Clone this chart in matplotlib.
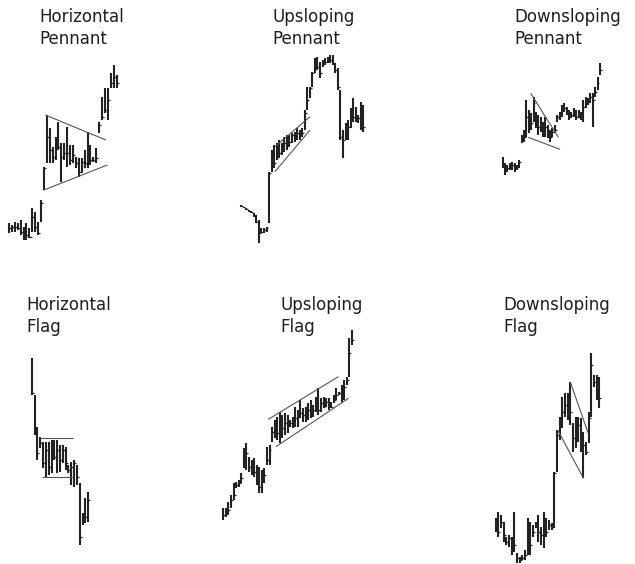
import matplotlib
matplotlib.use("Agg")
import matplotlib.pyplot as plt

# ---------------------------------------------------------------- data
# Horizontal pennant
hp_high = [48.0, 47.5, 48.5, 48.0, 49.0, 47.0, 48.0, 46.5, 52.5, 51.5, 48.5, 55.0,
           65.0, 80.5, 76.5, 71.0, 74.0, 78.5, 72.0, 72.0, 77.0, 71.5, 71.5, 68.0,
           67.5, 67.5, 70.0, 75.5, 71.5, 68.0, 70.5, 78.5, 86.0, 88.5, 88.5, 93.0,
           95.5, 92.5]
hp_low = [45.0, 45.5, 45.5, 46.0, 44.5, 43.0, 43.0, 43.5, 45.5, 45.5, 44.5, 48.5,
          58.0, 66.0, 66.0, 66.0, 67.0, 70.0, 60.5, 67.0, 65.0, 65.5, 66.0, 64.5,
          62.0, 63.0, 64.5, 64.5, 65.5, 66.5, 66.0, 75.0, 79.0, 81.0, 79.0, 88.5,
          88.5, 88.5]
hp_close = [46.5, 46.8, 47.0, 46.5, 45.5, 44.0, 44.5, 43.8, 50.0, 47.0, 45.0, 54.0,
            64.5, 73.8, 70.0, 68.0, 70.5, 71.0, 68.0, 69.0, 69.0, 67.0, 68.5, 66.0,
            63.5, 66.5, 66.0, 70.0, 67.0, 67.0, 67.5, 77.5, 80.0, 82.0, 85.0, 90.0,
            92.0, 90.0]
hp_lines = [([12.5, 33.3], [80.5, 73.0]), ([12.0, 33.8], [58.0, 65.5])]

# Upsloping pennant
up_high = [50.4, 50.0, 49.5, 49.0, 48.6, 48.2, 47.5, 46.0, 43.5, 43.5, 44.0, 60.5,
           67.0, 68.5, 69.0, 70.0, 69.0, 71.0, 71.5, 71.5, 72.0, 72.5, 73.5, 73.0,
           73.5, 79.0, 86.0, 86.0, 90.5, 94.5, 95.0, 93.5, 94.0, 94.5, 95.0, 95.5,
           95.5, 93.0, 91.5, 85.0, 73.0, 75.0, 76.0, 79.5, 82.5, 80.0, 77.5, 81.5,
           80.5]
up_low = [50.0, 49.6, 49.0, 48.5, 48.0, 47.0, 45.0, 39.0, 42.0, 42.2, 42.5, 45.0,
          60.5, 61.5, 64.0, 64.5, 65.5, 66.5, 67.0, 68.0, 69.0, 69.5, 70.0, 70.0,
          71.0, 73.0, 79.0, 82.5, 86.0, 90.0, 91.0, 88.5, 92.0, 92.5, 93.0, 93.0,
          92.5, 90.0, 85.0, 70.0, 64.5, 70.0, 70.0, 73.5, 75.5, 75.5, 75.0, 73.0,
          72.5]
up_close = [50.2, 49.8, 49.2, 48.8, 48.3, 47.5, 45.5, 42.0, 42.5, 43.0, 43.5, 60.0,
            66.0, 63.0, 67.5, 66.0, 68.5, 69.0, 70.5, 69.5, 71.5, 70.5, 72.0, 72.5,
            72.0, 78.0, 82.0, 85.5, 90.0, 93.0, 92.0, 90.0, 93.5, 93.5, 94.5, 94.0,
            93.0, 91.0, 86.0, 71.0, 70.0, 72.0, 74.0, 78.0, 77.0, 76.0, 76.5, 75.0,
            74.0]
up_lines = [([13.3, 27.1], [68.0, 77.0]), ([13.3, 27.1], [60.5, 73.0])]

# Downsloping pennant
dp_high = [68.0, 66.0, 65.5, 66.0, 66.5, 66.0, 65.5, 67.0, 74.5, 76.0, 85.0, 82.0,
           81.0, 86.0, 81.5, 80.5, 80.0, 78.5, 80.0, 77.5, 76.0, 76.5, 77.5, 80.5,
           81.5, 83.5, 84.0, 83.0, 82.0, 81.5, 82.5, 82.0, 82.0, 81.5, 85.0, 86.0,
           85.5, 87.0, 87.0, 89.0, 92.0, 96.0]
dp_low = [64.5, 62.5, 63.5, 64.0, 64.0, 63.5, 64.0, 64.5, 72.0, 72.5, 74.0, 75.0,
          76.0, 78.5, 76.5, 74.5, 75.5, 74.0, 74.0, 73.5, 72.5, 74.0, 75.0, 78.5,
          79.0, 80.0, 81.5, 80.5, 79.0, 79.5, 80.0, 79.0, 79.5, 79.0, 78.5, 82.5,
          83.5, 84.0, 77.0, 86.0, 88.0, 92.5]
dp_close = [66.0, 64.0, 64.5, 65.0, 65.5, 65.0, 65.0, 66.5, 73.0, 74.0, 80.0, 79.0,
            78.0, 84.0, 79.0, 77.0, 78.0, 76.0, 77.0, 75.5, 74.0, 75.5, 76.0, 80.0,
            80.5, 82.0, 82.5, 81.0, 80.5, 80.5, 81.0, 80.0, 80.5, 80.0, 83.0, 85.0,
            84.5, 86.0, 85.0, 87.5, 90.0, 94.0]
dp_lines = [([11.8, 23.5], [87.0, 73.8]), ([10.8, 24.2], [73.8, 70.2])]

# Horizontal flag
hf_high = [97.5, 86.5, 77.0, 74.0, 72.5, 72.5, 72.5, 73.0, 73.0, 73.0, 71.5, 71.5,
           71.0, 65.5, 66.5, 67.0, 65.5, 60.0, 51.0, 55.5, 57.5]
hf_low = [86.5, 74.5, 67.0, 70.5, 64.5, 62.0, 62.5, 63.0, 67.0, 63.0, 63.5, 66.0,
          64.0, 63.0, 59.5, 59.0, 59.5, 41.5, 47.5, 48.0, 48.5]
hf_close = [87.0, 75.5, 69.0, 72.0, 66.0, 70.0, 65.0, 69.0, 68.0, 70.0, 67.0, 70.0,
            66.0, 64.0, 65.0, 66.0, 62.0, 44.0, 49.0, 50.0, 55.0]
hf_lines = [([2.9, 14.7], [73.5, 73.5]), ([3.5, 14.9], [61.8, 61.8])]

# Upsloping flag
uf_high = [43.5, 43.5, 45.5, 47.5, 51.0, 51.5, 52.0, 54.0, 61.5, 63.0, 59.0, 58.0,
           58.5, 56.5, 56.0, 55.0, 55.5, 62.0, 62.5, 68.0, 70.0, 71.0, 72.5, 71.5,
           72.0, 71.5, 70.0, 71.0, 74.0, 73.0, 76.0, 73.5, 74.0, 75.0, 76.0, 74.5,
           77.0, 79.5, 76.5, 77.0, 76.5, 76.5, 75.5, 77.5, 79.5, 78.5, 80.5, 82.0,
           83.0, 94.5, 97.0]
uf_low = [40.0, 41.0, 41.5, 43.5, 46.0, 49.5, 50.0, 51.0, 55.5, 55.0, 54.5, 53.5,
          53.0, 50.5, 48.0, 48.0, 51.0, 56.5, 56.5, 63.5, 64.5, 64.0, 63.0, 64.5,
          65.5, 66.0, 68.0, 67.5, 68.0, 68.0, 70.5, 69.5, 69.5, 70.0, 70.5, 71.0,
          72.5, 71.5, 72.5, 73.5, 74.0, 73.0, 73.5, 75.0, 76.0, 77.5, 75.5, 76.0,
          80.5, 83.0, 92.5]
uf_close = [41.5, 42.5, 43.0, 46.0, 47.5, 50.5, 51.0, 52.5, 57.0, 60.0, 56.0, 55.0,
            54.5, 52.0, 50.0, 52.5, 53.5, 58.0, 61.0, 66.5, 67.0, 66.0, 68.0, 67.5,
            69.0, 68.5, 69.0, 70.0, 70.5, 71.0, 72.0, 71.5, 72.5, 73.0, 72.0, 73.0,
            74.5, 73.0, 75.0, 74.0, 75.5, 74.5, 74.0, 76.0, 77.5, 78.0, 78.0, 80.0,
            82.0, 90.0, 94.0]
uf_lines = [([17.5, 44.8], [70.2, 83.0]), ([20.5, 48.7], [62.0, 76.5])]

# Downsloping flag
df_high = [48.0, 50.0, 49.0, 47.0, 42.5, 43.0, 42.5, 50.0, 37.5, 36.5, 37.0, 38.5,
           48.0, 47.0, 46.0, 47.0, 49.0, 45.5, 50.0, 48.0, 47.5, 46.5, 62.0, 74.5,
           78.5, 84.5, 85.5, 85.5, 89.0, 76.5, 78.5, 78.5, 78.0, 74.0, 71.0, 80.0,
           97.5, 91.0, 91.0, 90.5]
df_low = [44.0, 42.5, 45.0, 41.0, 40.0, 39.5, 37.0, 38.0, 34.5, 34.5, 35.5, 35.5,
          37.0, 37.0, 42.5, 45.0, 41.0, 40.0, 39.0, 42.5, 44.5, 44.5, 45.0, 62.0,
          71.5, 75.0, 78.5, 77.5, 76.0, 68.0, 69.0, 71.0, 68.0, 60.0, 67.0, 70.5,
          78.5, 87.5, 83.5, 81.0]
df_close = [46.0, 44.0, 47.0, 43.0, 41.0, 42.0, 39.0, 40.0, 36.0, 35.5, 36.0, 37.0,
            45.0, 40.0, 44.0, 46.0, 44.0, 43.0, 45.0, 44.0, 46.0, 45.5, 61.5, 73.0,
            77.0, 80.0, 82.0, 85.0, 80.0, 72.0, 74.0, 76.0, 73.0, 70.0, 68.0, 78.0,
            94.0, 89.0, 87.0, 84.0]
df_lines = [([28.0, 34.8], [89.0, 73.5]), ([23.3, 33.0], [74.5, 60.0])]

titles = ["Horizontal\nPennant", "Upsloping\nPennant", "Downsloping\nPennant",
          "Horizontal\nFlag", "Upsloping\nFlag", "Downsloping\nFlag"]

# ---------------------------------------------------------------- layout
W, H = 635, 564
fig = plt.figure(figsize=(W / 100, H / 100), dpi=100)
fig.patch.set_facecolor("white")

PX_PER_UNIT = 10 / 3          # vertical pixels per price unit
BAR_COLOR = "#222222"
LINE_COLOR = "#555555"

panels = [
    # box (left, top, width, height in px), first bar x px, bar step px
    (hp_high, hp_low, hp_close, hp_lines, (0, 50, 130, 200), 9.0, 2.91),
    (up_high, up_low, up_close, up_lines, (225, 40, 150, 210), 241.0, 2.55),
    (dp_high, dp_low, dp_close, dp_lines, (490, 50, 120, 140), 502.7, 2.37),
    (hf_high, hf_low, hf_close, hf_lines, (20, 350, 90, 200), 31.7, 2.83),
    (uf_high, uf_low, uf_close, uf_lines, (215, 320, 145, 210), 223.3, 2.57),
    (df_high, df_low, df_close, df_lines, (485, 345, 125, 220), 495.7, 2.66),
]

for high, low, close, lines, box, first_px, step_px in panels:
    left, top, bw, bh = box
    ax = fig.add_axes([left / W, 1 - (top + bh) / H, bw / W, bh / H])
    ax.set_axis_off()
    ax.set_xlim((left - first_px) / step_px, (left + bw - first_px) / step_px)
    ax.set_ylim(100 - bh / PX_PER_UNIT, 100)
    x = list(range(len(high)))
    ax.vlines(x, low, high, colors=BAR_COLOR, linewidth=1.5)
    ax.hlines(close, [i - 0.05 for i in x], [i + 0.75 for i in x],
              colors=BAR_COLOR, linewidth=0.9)
    for xs, ys in lines:
        ax.plot(xs, ys, color=LINE_COLOR, linewidth=0.8, solid_capstyle="butt")

title_pos = [(39, 8), (272, 8), (514, 8), (26, 296), (280, 296), (503, 296)]
for text, (tx, ty) in zip(titles, title_pos):
    fig.text(tx / W, 1 - ty / H, text, ha="left", va="top", fontsize=12,
             color="#1e1e1e", family="DejaVu Sans", linespacing=1.3)

fig.savefig("out.png", dpi=100, facecolor="white")
